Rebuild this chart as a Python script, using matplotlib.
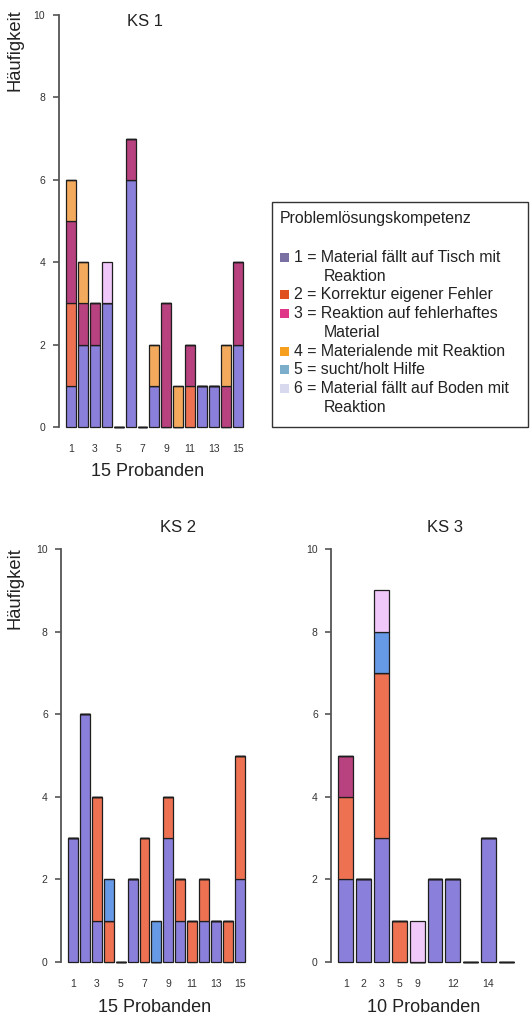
import matplotlib
matplotlib.use("Agg")
import matplotlib.pyplot as plt
from matplotlib.patches import Rectangle

plt.rcParams["font.family"] = ["Liberation Sans", "DejaVu Sans"]

# Categories of problem-solving behaviour (stack order, bottom to top)
category_labels = [
    ("1 = Material fällt auf Tisch mit", "Reaktion"),
    ("2 = Korrektur eigener Fehler", None),
    ("3 = Reaktion auf fehlerhaftes", "Material"),
    ("4 = Materialende mit Reaktion", None),
    ("5 = sucht/holt Hilfe", None),
    ("6 = Material fällt auf Boden mit", "Reaktion"),
]
bar_colors = ["#8a80db", "#ee7252", "#b8417f", "#f4aa5c", "#6699e6", "#f0c8fa"]
legend_colors = ["#7a70a4", "#e0501e", "#e0368a", "#f7a020", "#7aaecb", "#d8d8ee"]

# KS 1: 15 participants, counts per category
ks1_cat1 = [1, 2, 2, 3, 0, 6, 0, 1, 0, 0, 0, 1, 1, 0, 2]
ks1_cat2 = [2, 0, 0, 0, 0, 0, 0, 0, 0, 0, 1, 0, 0, 0, 0]
ks1_cat3 = [2, 1, 1, 0, 0, 1, 0, 0, 3, 0, 1, 0, 0, 1, 2]
ks1_cat4 = [1, 1, 0, 0, 0, 0, 0, 1, 0, 1, 0, 0, 0, 1, 0]
ks1_cat5 = [0, 0, 0, 0, 0, 0, 0, 0, 0, 0, 0, 0, 0, 0, 0]
ks1_cat6 = [0, 0, 0, 1, 0, 0, 0, 0, 0, 0, 0, 0, 0, 0, 0]
ks1_ticklabels = ["1", "", "3", "", "5", "", "7", "", "9", "", "11", "", "13", "", "15"]

# KS 2: 15 participants
ks2_cat1 = [3, 6, 1, 0, 0, 2, 0, 0, 3, 1, 0, 1, 1, 0, 2]
ks2_cat2 = [0, 0, 3, 1, 0, 0, 3, 0, 1, 1, 1, 1, 0, 1, 3]
ks2_cat3 = [0, 0, 0, 0, 0, 0, 0, 0, 0, 0, 0, 0, 0, 0, 0]
ks2_cat4 = [0, 0, 0, 0, 0, 0, 0, 0, 0, 0, 0, 0, 0, 0, 0]
ks2_cat5 = [0, 0, 0, 1, 0, 0, 0, 1, 0, 0, 0, 0, 0, 0, 0]
ks2_cat6 = [0, 0, 0, 0, 0, 0, 0, 0, 0, 0, 0, 0, 0, 0, 0]
ks2_ticklabels = ks1_ticklabels

# KS 3: 10 participants
ks3_cat1 = [2, 2, 3, 0, 0, 2, 2, 0, 3, 0]
ks3_cat2 = [2, 0, 4, 1, 0, 0, 0, 0, 0, 0]
ks3_cat3 = [1, 0, 0, 0, 0, 0, 0, 0, 0, 0]
ks3_cat4 = [0, 0, 0, 0, 0, 0, 0, 0, 0, 0]
ks3_cat5 = [0, 0, 1, 0, 0, 0, 0, 0, 0, 0]
ks3_cat6 = [0, 0, 1, 0, 1, 0, 0, 0, 0, 0]
ks3_ticklabels = ["1", "2", "3", "5", "9", "", "12", "", "14", ""]

W, H = 531, 1019
fig = plt.figure(figsize=(W / 100, H / 100), dpi=100)

TEXT = "#222222"
AXIS = "#555555"


def px_axes(left, right, y0, y10):
    """Create axes from pixel positions (y measured from top)."""
    return fig.add_axes([left / W, 1 - y0 / H, (right - left) / W, (y0 - y10) / H])


def stacked(ax, series, ticklabels, x_left):
    n = len(series[0])
    xs = list(range(n))
    bottom = [0] * n
    for values, color in zip(series, bar_colors):
        ax.bar(xs, values, bottom=bottom, width=0.83, color=color,
               edgecolor="#1e1e1e", linewidth=0.9, clip_on=False, zorder=3)
        bottom = [b + v for b, v in zip(bottom, values)]
    ax.set_xlim(x_left, n - 0.4)
    ax.set_ylim(0, 10)
    for side in ("top", "right", "bottom"):
        ax.spines[side].set_visible(False)
    ax.spines["left"].set_color(AXIS)
    ax.spines["left"].set_linewidth(1.3)
    ax.set_yticks([0, 2, 4, 6, 8, 10])
    ax.tick_params(axis="y", length=4, width=1.2, color=AXIS, labelsize=7.5,
                   labelcolor="#333333", pad=5.5)
    ax.set_xticks(xs)
    ax.set_xticklabels(ticklabels)
    ax.tick_params(axis="x", length=0, labelsize=7.5, labelcolor="#333333", pad=12.5)
    ax.patch.set_alpha(0)


ax1 = px_axes(58.5, 245, 427, 15)
stacked(ax1, [ks1_cat1, ks1_cat2, ks1_cat3, ks1_cat4, ks1_cat5, ks1_cat6],
        ks1_ticklabels, -1.05)

ax2 = px_axes(61, 247, 962, 549)
stacked(ax2, [ks2_cat1, ks2_cat2, ks2_cat3, ks2_cat4, ks2_cat5, ks2_cat6],
        ks2_ticklabels, -1.01)

ax3 = px_axes(331, 517, 962, 549)
stacked(ax3, [ks3_cat1, ks3_cat2, ks3_cat3, ks3_cat4, ks3_cat5, ks3_cat6],
        ks3_ticklabels, -0.83)


def ftext(x, y, s, **kw):
    fig.text(x / W, 1 - y / H, s, **kw)


# titles and axis labels
ftext(145, 21, "KS 1", ha="center", va="center", fontsize=12, color=TEXT)
ftext(178, 527, "KS 2", ha="center", va="center", fontsize=12, color=TEXT)
ftext(445, 527, "KS 3", ha="center", va="center", fontsize=12, color=TEXT)
ftext(15, 50, "Häufigkeit", ha="center", va="center", rotation=90, fontsize=13.2, color=TEXT)
ftext(15, 588, "Häufigkeit", ha="center", va="center", rotation=90, fontsize=13.2, color=TEXT)
ftext(148, 472, "15 Probanden", ha="center", va="center", fontsize=13, color=TEXT)
ftext(155, 1007, "15 Probanden", ha="center", va="center", fontsize=13, color=TEXT)
ftext(424, 1007, "10 Probanden", ha="center", va="center", fontsize=13, color=TEXT)

# legend box
fig.add_artist(Rectangle((272 / W, 1 - 427 / H), (528 - 272) / W, (427 - 202) / H,
                         transform=fig.transFigure, facecolor="white",
                         edgecolor="#333333", linewidth=1.0))
ftext(280, 218, "Problemlösungskompetenz", ha="left", va="center", fontsize=11.4, color=TEXT)
line_y = 257.5
step = 18.7
for (first, second), color in zip(category_labels, legend_colors):
    fig.add_artist(Rectangle((280 / W, 1 - (line_y + 4.5) / H), 8.5 / W, 9 / H,
                             transform=fig.transFigure, facecolor=color,
                             edgecolor="none"))
    ftext(294, line_y, first, ha="left", va="center", fontsize=11.4, color=TEXT)
    line_y += step
    if second:
        ftext(323.5, line_y, second, ha="left", va="center", fontsize=11.4, color=TEXT)
        line_y += step

fig.savefig("out.png", dpi=100)
